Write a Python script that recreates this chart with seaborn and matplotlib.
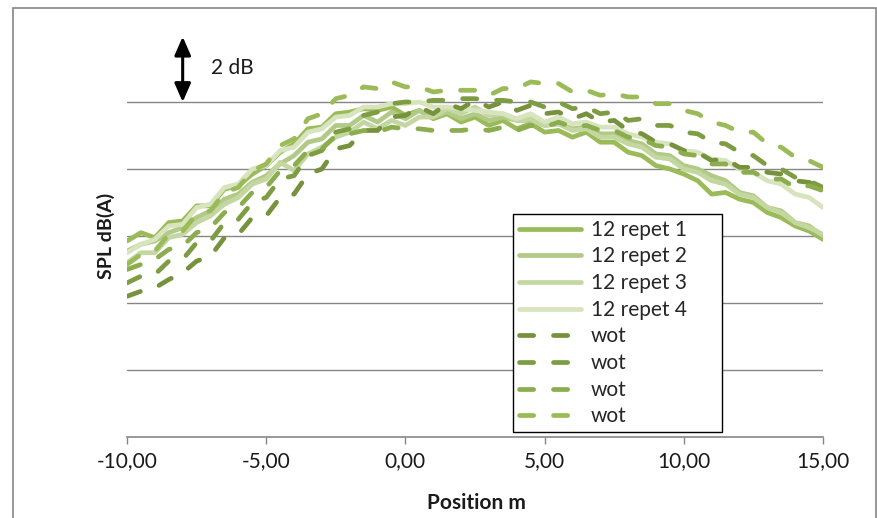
import numpy as np
import pandas as pd
import matplotlib
matplotlib.use("Agg")
import matplotlib.pyplot as plt
import seaborn as sns
from matplotlib.patches import Rectangle

sns.set_theme(style="white")
plt.rcParams["font.family"] = ["Lato", "DejaVu Sans"]

# Measurement positions along the track (m), every 0.5 m
positions = np.arange(-10, 15.001, 0.5)

# Relative SPL, dB(A)
repet_1 = [5.85, 6.10, 5.95, 6.40, 6.45, 6.90, 6.90, 7.40, 7.50, 7.85,
           8.10, 8.50, 8.75, 9.20, 9.25, 9.65, 9.70, 9.80, 9.75, 9.85,
           9.60, 9.75, 9.50, 9.65, 9.40, 9.55, 9.30, 9.45, 9.20, 9.35,
           9.10, 9.15, 8.95, 9.10, 8.80, 8.80, 8.50, 8.40, 8.10, 8.00,
           7.85, 7.65, 7.25, 7.30, 7.10, 7.00, 6.70, 6.55, 6.30, 6.15,
           5.90]
repet_2 = [5.55, 5.75, 5.85, 6.10, 6.25, 6.55, 6.75, 7.10, 7.25, 7.60,
           7.80, 8.15, 8.40, 8.80, 8.90, 9.30, 9.30, 9.60, 9.40, 9.70,
           9.50, 9.75, 9.55, 9.70, 9.50, 9.65, 9.45, 9.55, 9.45, 9.45,
           9.30, 9.35, 9.20, 9.25, 9.05, 9.05, 8.85, 8.75, 8.45, 8.40,
           8.10, 8.00, 7.80, 7.65, 7.30, 7.20, 6.85, 6.75, 6.40, 6.30,
           6.00]
repet_3 = [5.20, 5.50, 5.50, 5.95, 6.05, 6.40, 6.60, 6.95, 7.15, 7.55,
           7.70, 8.20, 7.95, 8.45, 8.65, 8.95, 9.10, 9.40, 9.20, 9.45,
           9.30, 9.55, 9.55, 9.80, 9.65, 9.85, 9.60, 9.65, 9.45, 9.50,
           9.30, 9.35, 9.15, 9.20, 8.95, 8.95, 8.75, 8.65, 8.35, 8.30,
           8.00, 7.90, 7.65, 7.55, 7.25, 7.15, 6.85, 6.70, 6.40, 6.25,
           6.05]
repet_4 = [5.50, 5.75, 5.90, 6.30, 6.35, 6.85, 6.95, 7.45, 7.55, 8.00,
           8.10, 8.55, 8.65, 9.10, 9.20, 9.55, 9.60, 9.85, 9.85, 9.95,
           9.95, 10.00, 9.85, 9.85, 9.80, 9.75, 9.70, 9.65, 9.50, 9.65,
           9.40, 9.55, 9.35, 9.40, 9.25, 9.25, 9.05, 8.95, 8.80, 8.75,
           8.55, 8.50, 8.30, 8.25, 8.00, 7.90, 7.65, 7.55, 7.25, 7.15,
           6.85]
wot_1 = [4.20, 4.35, 4.45, 4.70, 4.90, 5.25, 5.40, 5.95, 6.05, 6.55,
         6.60, 7.15, 7.25, 7.85, 8.00, 8.60, 8.70, 9.15, 9.15, 9.55,
         9.60, 9.85, 9.65, 9.95, 9.80, 10.05, 9.85, 10.00, 9.75, 9.90,
         9.65, 9.70, 9.50, 9.65, 9.40, 9.45, 9.15, 9.05, 8.80, 8.75,
         8.55, 8.50, 8.25, 8.30, 8.05, 8.05, 7.90, 7.85, 7.65, 7.60,
         7.40]
wot_2 = [4.60, 4.80, 4.85, 5.25, 5.30, 5.80, 5.85, 6.40, 6.50, 7.00,
         7.15, 7.70, 7.80, 8.40, 8.55, 9.10, 9.20, 9.60, 9.70, 9.95,
         10.00, 10.00, 10.05, 10.05, 10.10, 10.10, 10.05, 10.05, 10.00, 10.00,
         9.85, 10.00, 9.80, 9.85, 9.65, 9.70, 9.45, 9.50, 9.30, 9.30,
         9.10, 9.05, 8.80, 8.75, 8.50, 8.40, 8.10, 8.00, 7.75, 7.65,
         7.45]
wot_3 = [5.00, 5.15, 5.30, 5.60, 5.70, 6.10, 6.25, 6.70, 6.85, 7.30,
         7.45, 7.95, 8.10, 8.55, 8.60, 9.00, 9.05, 9.15, 9.10, 9.25,
         9.20, 9.20, 9.15, 9.15, 9.15, 9.20, 9.15, 9.25, 9.15, 9.30,
         9.25, 9.40, 9.25, 9.30, 9.15, 9.15, 8.95, 8.90, 8.70, 8.65,
         8.45, 8.40, 8.15, 8.15, 7.90, 7.90, 7.70, 7.70, 7.45, 7.50,
         7.35]
wot_4 = [5.15, 5.45, 5.55, 6.05, 6.15, 6.65, 6.75, 7.30, 7.45, 7.95,
         8.15, 8.70, 8.90, 9.50, 9.65, 10.10, 10.20, 10.45, 10.40, 10.60,
         10.45, 10.45, 10.30, 10.35, 10.35, 10.35, 10.20, 10.40, 10.40, 10.60,
         10.55, 10.55, 10.30, 10.35, 10.20, 10.25, 10.15, 10.15, 9.95, 9.95,
         9.75, 9.65, 9.40, 9.30, 9.10, 9.10, 8.75, 8.65, 8.35, 8.25,
         8.05]

series_names = ["12 repet 1", "12 repet 2", "12 repet 3", "12 repet 4",
                "wot", "wot", "wot", "wot"]
series_values = [repet_1, repet_2, repet_3, repet_4, wot_1, wot_2, wot_3, wot_4]
series_colors = ["#9BBB59", "#B2CA88", "#C4D7A1", "#D7E4BD",
                 "#76923C", "#7E9D43", "#8BAD4E", "#9BBB59"]
series_dashed = [False, False, False, False, True, True, True, True]

x_ticks = [-10, -5, 0, 5, 10, 15]
x_tick_labels = ["-10,00", "-5,00", "0,00", "5,00", "10,00", "15,00"]
grid_levels = [2, 4, 6, 8, 10]

W, H = 878, 518
fig = plt.figure(figsize=(W / 100, H / 100), dpi=100)
fig.patch.set_facecolor("white")
ax = fig.add_axes([127 / W, 81 / H, 696 / W, 402 / H])
ax.set_facecolor("white")

for idx, (name, vals, col, dashed) in enumerate(
        zip(series_names, series_values, series_colors, series_dashed)):
    df = pd.DataFrame({"Position": positions, "SPL": vals})
    kws = dict(color=col, linewidth=3.4, solid_capstyle="round",
               solid_joinstyle="round", dash_capstyle="round")
    if dashed:
        kws["linestyle"] = (0, (3.0, 4.2))
    sns.lineplot(data=df, x="Position", y="SPL", ax=ax, errorbar=None,
                 sort=False, zorder=3 + idx, **kws)

ax.set_xlim(-10, 15)
ax.set_ylim(0, 12)
ax.set_xticks(x_ticks)
ax.set_xticklabels(x_tick_labels, fontsize=15, color="#1a1a1a")
ax.set_yticks(grid_levels)
ax.set_yticklabels([])
ax.tick_params(axis="y", length=0)
ax.tick_params(axis="x", direction="out", length=5, width=1.0,
               color="#868686", pad=5, bottom=True)
ax.set_xlabel("")
ax.set_ylabel("")
ax.grid(axis="y", color="#868686", linewidth=1.0)
ax.grid(axis="x", visible=False)
for side in ["left", "right", "top"]:
    ax.spines[side].set_visible(False)
ax.spines["bottom"].set_color("#868686")
ax.spines["bottom"].set_linewidth(1.2)

# 2 dB scale arrow
ax.annotate("", xy=(-8.0, 10.0), xytext=(-8.0, 11.95),
            arrowprops=dict(arrowstyle="<|-|>,head_length=0.8,head_width=0.35",
                            color="black", lw=2.2, shrinkA=0, shrinkB=0,
                            mutation_scale=14),
            annotation_clip=False)
ax.text(-7.0, 11.0, "2 dB", fontsize=15, va="center", ha="left", color="#1a1a1a")

fig.text(476 / W, 1 - 503 / H, "Position m", fontsize=15, fontweight="bold",
         ha="center", va="center", color="#1a1a1a")
fig.text(106 / W, 1 - 236 / H, "SPL dB(A)", fontsize=14, fontweight="bold",
         rotation=90, ha="center", va="center", color="#1a1a1a")

leg = ax.legend(ax.lines, series_names, loc="upper left", mode="expand",
                bbox_to_anchor=(513 / W, 1 - 430 / H, 209 / W, 216 / H),
                bbox_transform=fig.transFigure, borderaxespad=0,
                fontsize=15, handlelength=3.0, handletextpad=0.45,
                borderpad=0.28, labelspacing=0.32, frameon=True,
                fancybox=False, framealpha=1, edgecolor="black")
leg.get_frame().set_linewidth(1.0)
leg.set_zorder(20)

# chart border
fig.patches.append(Rectangle((13.5 / W, -0.05), (876.5 - 13.5) / W,
                             1.05 - 7.5 / H, transform=fig.transFigure,
                             fill=False, edgecolor="#868686", linewidth=1.2))

fig.savefig("out.png", dpi=100)
